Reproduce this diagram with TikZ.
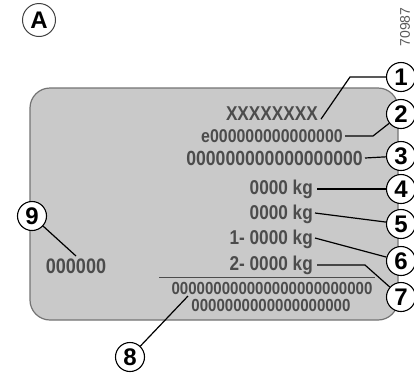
\documentclass[tikz,border=0pt]{standalone}
\usepackage{fontspec}
\setmainfont{Liberation Sans}
\newfontfamily\platefont[FakeStretch=0.86]{Liberation Sans}
\begin{document}
\begin{tikzpicture}[x=1pt,y=-1pt,
  plate/.style={draw=black!55, fill=black!21, line width=1.2pt, rounded corners=20pt},
  lab/.style={inner sep=0pt, text=black!70, font=\platefont\bfseries\fontsize{20}{20}\selectfont},
  smalllab/.style={lab, font=\platefont\bfseries\fontsize{18.5}{18.5}\selectfont},
  biglab/.style={lab, font=\platefont\bfseries\fontsize{20.5}{20.5}\selectfont},
  botlab/.style={lab, font=\platefont\bfseries\fontsize{17.5}{17.5}\selectfont},
  num/.style={circle, draw=black, fill=white, line width=1.1pt, minimum size=29pt, inner sep=0pt, font=\bfseries\fontsize{24}{24}\selectfont},
  leader/.style={draw=black, line width=1.2pt}]
\useasboundingbox (0,0) rectangle (414,376);
% plate
\draw[plate] (30,88) rectangle (398,320);
% texts
\node[lab, anchor=east] (t1) at (318,114) {XXXXXXXX};
\node[smalllab, anchor=east] (t2) at (343,136) {e000000000000000};
\node[biglab, anchor=east] (t3) at (363,158) {000000000000000000};
\node[lab, anchor=east] (t4) at (313,189) {0000 kg};
\node[lab, anchor=east] (t5) at (313,214) {0000 kg};
\node[lab, anchor=east] (t6) at (313,239) {1- 0000 kg};
\node[lab, anchor=east] (t7) at (313,265) {2- 0000 kg};
\node[botlab] (t8a) at (272,288) {000000000000000000000000};
\node[botlab] (t8b) at (271,305) {0000000000000000000};
\node[lab, font=\platefont\bfseries\fontsize{21}{21}\selectfont] (t9) at (76,266) {000000};
\coordinate (sepL) at (159,277);
\coordinate (sepR) at (375,277);
\draw[draw=black!70, line width=1pt] (sepL) -- (sepR);
% callouts
\node[num] (c1) at (401,77) {1};
\node[num] (c2) at (401,114) {2};
\node[num] (c3) at (401,156) {3};
\node[num] (c4) at (401,189) {4};
\node[num] (c5) at (401,224) {5};
\node[num] (c6) at (401,261) {6};
\node[num] (c7) at (401,297) {7};
\node[num] (c8) at (130,357) {8};
\node[num] (c9) at (32,216) {9};
% leaders
\coordinate (b1) at (350,77);
\coordinate (b2) at (373,136);
\coordinate (b7) at (365,265);
\coordinate (e8) at (188,296);
\coordinate (e9) at (76,256);
\draw[leader] (t1.south east) ++(3,-2) -- (b1) -- (c1);
\draw[leader] (t2.east) ++(2,0) -- (b2) -- (c2);
\draw[leader] (t3.east) ++(2,0) -- (c3);
\draw[leader] (t4.east) ++(4,0) -- (c4);
\draw[leader] (t5.east) ++(2,-1) -- (c5);
\draw[leader] (t6.east) ++(2,-1) -- (c6);
\draw[leader] (t7.east) ++(4,0) -- (b7) -- (c7);
\draw[leader] (c8) -- (e8);
\draw[leader] (c9) -- (e9);
% reference marks
\node[circle, draw=black!75, line width=1pt, minimum size=33pt, inner sep=0pt, font=\bfseries\fontsize{24}{24}\selectfont] (cA) at (39,20) {A};
\node[rotate=90, text=black!65, font=\fontsize{14}{14}\selectfont] (code) at (405,27) {70987};
\end{tikzpicture}
\end{document}
